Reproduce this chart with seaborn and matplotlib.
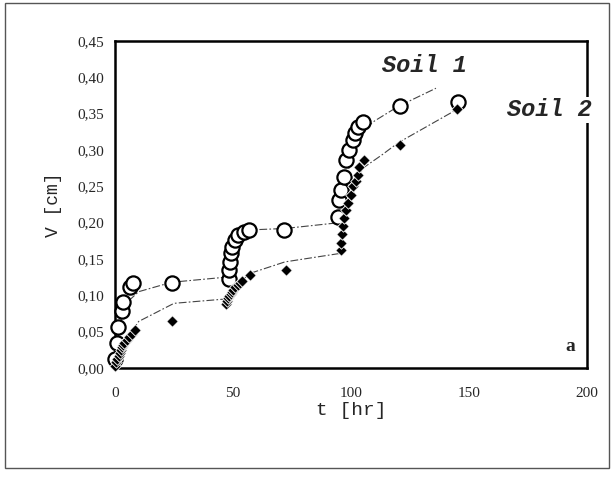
import matplotlib
matplotlib.use("Agg")
import matplotlib.pyplot as plt
import seaborn as sns
import pandas as pd
from matplotlib.patches import Rectangle

# ---- data ----
soil1_t = [0, 0.7, 1.4, 2.8, 3.5, 6.4, 7.8, 24.1,
           48.2, 48.5, 48.8, 49.3, 49.7, 50.7, 52.0, 54.6, 56.7, 71.6,
           94.3, 95.0, 95.7, 97.2, 97.9, 99.3, 100.7, 101.5, 102.8, 105.0,
           120.6, 145.4]
soil1_v = [0.012, 0.034, 0.057, 0.078, 0.091, 0.112, 0.117, 0.117,
           0.123, 0.135, 0.146, 0.158, 0.167, 0.176, 0.183, 0.1875, 0.19, 0.19,
           0.208, 0.231, 0.245, 0.263, 0.286, 0.300, 0.314, 0.323, 0.332, 0.339,
           0.360, 0.366]

soil2_t = [0, 0.5, 1, 1.5, 2, 2.5, 3, 3.5, 4, 5, 6, 7, 8.5, 24.1,
           47, 47.5, 48, 48.5, 49, 49.5, 50, 51, 52, 53, 54, 57.4, 72.3,
           95.7, 95.9, 96.2, 96.6, 97.2, 97.9, 98.6, 100.0, 100.7, 102.0,
           102.8, 103.5, 105.7, 120.6, 145.0]
soil2_v = [0.003, 0.008, 0.013, 0.017, 0.021, 0.025, 0.029, 0.032, 0.035,
           0.039, 0.043, 0.047, 0.052, 0.064,
           0.088, 0.092, 0.096, 0.099, 0.102, 0.105, 0.108, 0.111, 0.114,
           0.117, 0.120, 0.128, 0.135,
           0.163, 0.172, 0.185, 0.196, 0.206, 0.217, 0.227, 0.238, 0.250,
           0.258, 0.266, 0.277, 0.286, 0.307, 0.356]

fit1_t = [0, 2, 5, 10, 24, 47, 48, 50, 53, 57, 72, 95, 96, 98, 101, 104,
          110, 120, 136]
fit1_v = [0.0, 0.06, 0.09, 0.105, 0.118, 0.125, 0.13, 0.155, 0.18, 0.19,
          0.192, 0.20, 0.21, 0.26, 0.30, 0.325, 0.34, 0.36, 0.385]

fit2_t = [0, 3, 10, 25, 47, 48, 52, 57, 72, 96, 97, 99, 102, 105, 113,
          120, 145]
fit2_v = [0.0, 0.03, 0.064, 0.089, 0.095, 0.10, 0.115, 0.13, 0.146, 0.158,
          0.19, 0.22, 0.25, 0.275, 0.293, 0.31, 0.356]

x_ticks = [0, 50, 100, 150, 200]
y_ticks = [0.00, 0.05, 0.10, 0.15, 0.20, 0.25, 0.30, 0.35, 0.40, 0.45]
y_tick_labels = ["0,00", "0,05", "0,10", "0,15", "0,20", "0,25", "0,30",
                 "0,35", "0,40", "0,45"]

df1 = pd.DataFrame({"t": soil1_t, "V": soil1_v})
df2 = pd.DataFrame({"t": soil2_t, "V": soil2_v})
f1 = pd.DataFrame({"t": fit1_t, "V": fit1_v})
f2 = pd.DataFrame({"t": fit2_t, "V": fit2_v})

sns.set_style("white")
fig = plt.figure(figsize=(6.15, 4.79), dpi=100)
ax = fig.add_axes([115 / 615, 1 - 368 / 479, 472 / 615, 327 / 479])

dash = (0, (7, 2, 1.5, 2))
sns.lineplot(data=f1, x="t", y="V", ax=ax, color="#444444", lw=0.8,
             linestyle=dash, sort=False, estimator=None)
sns.lineplot(data=f2, x="t", y="V", ax=ax, color="#444444", lw=0.8,
             linestyle=dash, sort=False, estimator=None)
sns.scatterplot(data=df1, x="t", y="V", ax=ax, marker="o", s=105,
                facecolor="white", edgecolor="black", linewidth=1.6,
                clip_on=False, zorder=3)
sns.scatterplot(data=df2, x="t", y="V", ax=ax, marker="D", s=34,
                color="black", edgecolor="white", linewidth=0.6,
                clip_on=False, zorder=4)

ax.set_xlim(0, 200)
ax.set_ylim(0, 0.45)
ax.set_xticks(x_ticks)
ax.set_xticklabels([str(v) for v in x_ticks])
ax.set_yticks(y_ticks)
ax.set_yticklabels(y_tick_labels)
ax.tick_params(axis="both", direction="in", length=3, width=0.8,
               labelsize=11, pad=14)
ax.tick_params(axis="y", pad=8)
for lab in ax.get_xticklabels() + ax.get_yticklabels():
    lab.set_fontfamily("Liberation Serif")

for sp in ax.spines.values():
    sp.set_visible(True)
    sp.set_color("black")
    sp.set_linewidth(1.8)

ax.set_xlabel("t [hr]", fontfamily="Liberation Mono", fontsize=14,
              labelpad=1)
ax.set_ylabel("V [cm]", fontfamily="Liberation Mono", fontsize=13,
              labelpad=11)

ax.text(0.655, 0.925, "Soil 1", transform=ax.transAxes, ha="center",
        va="center", fontfamily="Liberation Mono", fontweight="bold",
        fontstyle="italic", fontsize=17)
ax.text(0.92, 0.79, "Soil 2", transform=ax.transAxes, ha="center",
        va="center", fontfamily="Liberation Mono", fontweight="bold",
        fontstyle="italic", fontsize=17, clip_on=False, zorder=6,
        bbox=dict(facecolor="white", edgecolor="none", pad=1))
ax.text(0.965, 0.065, "a", transform=ax.transAxes, ha="center",
        va="center", fontfamily="Liberation Serif", fontweight="bold",
        fontsize=14)

fig.patches.append(Rectangle((5 / 615, 1 - 468 / 479), 604 / 615,
                             465 / 479, transform=fig.transFigure,
                             fill=False, edgecolor="#555555", lw=1.0))

fig.savefig("out.png", dpi=100)
